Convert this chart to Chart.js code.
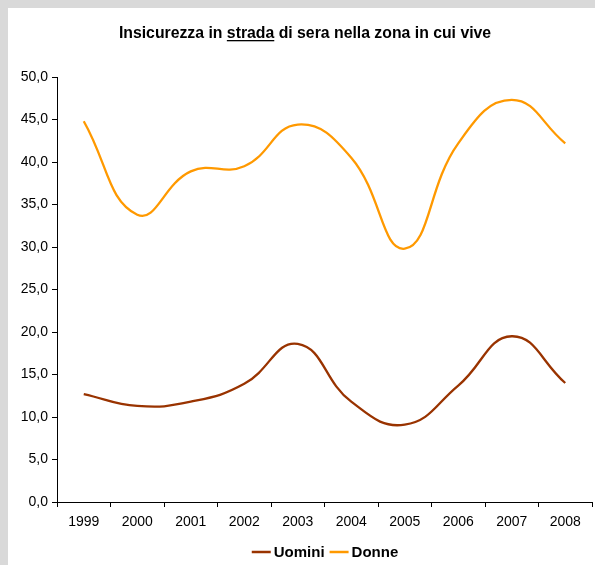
<!DOCTYPE html>
<html>
<head>
<meta charset="utf-8">
<script src="https://cdn.jsdelivr.net/npm/chart.js@4/dist/chart.umd.min.js"></script>
<style>
  html, body { margin: 0; padding: 0; }
  body { width: 595px; height: 565px; background: #d9d9d9; position: relative; overflow: hidden; }
  #panel { position: absolute; left: 8px; top: 8px; right: 0; bottom: 0; background: #ffffff; }
  #wrap { position: absolute; left: 0; top: 0; width: 595px; height: 565px; }
</style>
</head>
<body>
<div id="panel"></div>
<div id="wrap"><canvas id="chart" width="595" height="565"></canvas></div>
<script>
// Years on the horizontal axis
const years = ['1999', '2000', '2001', '2002', '2003', '2004', '2005', '2006', '2007', '2008'];
// Share feeling unsafe in the street at night (%)
const uomini = [12.7, 11.3, 11.8, 13.9, 18.6, 11.8, 9.1, 13.7, 19.5, 14.0];
const donne = [44.8, 33.8, 38.9, 39.5, 44.4, 40.5, 29.8, 42.2, 47.3, 42.2];
// Value-axis tick labels
const yTicks = ['0,0', '5,0', '10,0', '15,0', '20,0', '25,0', '30,0', '35,0', '40,0', '45,0', '50,0'];

const titleParts = [
  { text: 'Insicurezza in ', underline: false },
  { text: 'strada', underline: true },
  { text: ' di sera nella zona in cui vive', underline: false }
];

const FONT = "'Liberation Sans', Arial, sans-serif";

// Title with the underlined word
const titlePlugin = {
  id: 'underlinedTitle',
  afterDraw(chart) {
    const ctx = chart.ctx;
    ctx.save();
    ctx.font = 'bold 15.8px ' + FONT;
    ctx.fillStyle = '#000';
    ctx.textBaseline = 'alphabetic';
    const total = titleParts.reduce((s, p) => s + ctx.measureText(p.text).width, 0);
    let x = 305 - total / 2;
    const y = 38;
    titleParts.forEach(p => {
      const w = ctx.measureText(p.text).width;
      ctx.fillText(p.text, x, y);
      if (p.underline) {
        ctx.fillRect(x, y + 2, w, 1.3);
      }
      x += w;
    });
    ctx.restore();
  }
};

// Legend drawn below the axis from the dataset styles
const legendPlugin = {
  id: 'lineLegend',
  afterDraw(chart) {
    const ctx = chart.ctx;
    ctx.save();
    ctx.font = 'bold 15px ' + FONT;
    ctx.textBaseline = 'middle';
    const sw = 19, gap = 3, between = 5;
    const items = chart.data.datasets.map(d => ({ label: d.label, color: d.borderColor, w: ctx.measureText(d.label).width }));
    const total = items.reduce((s, it) => s + sw + gap + it.w, 0) + between * (items.length - 1);
    let x = 325 - total / 2;
    const y = 552;
    items.forEach(it => {
      ctx.strokeStyle = it.color;
      ctx.lineWidth = 2.5;
      ctx.beginPath();
      ctx.moveTo(x, y);
      ctx.lineTo(x + sw, y);
      ctx.stroke();
      x += sw + gap;
      ctx.fillStyle = '#000';
      ctx.fillText(it.label, x, y + 1);
      x += it.w + between;
    });
    ctx.restore();
  }
};

new Chart(document.getElementById('chart'), {
  type: 'line',
  data: {
    labels: years,
    datasets: [
      { label: 'Uomini', data: uomini, borderColor: '#993300', borderWidth: 2.3, pointRadius: 0, tension: 0.45, fill: false },
      { label: 'Donne', data: donne, borderColor: '#ff9900', borderWidth: 2.3, pointRadius: 0, tension: 0.45, fill: false }
    ]
  },
  options: {
    responsive: false,
    animation: false,
    layout: { padding: { left: 0, right: 3, top: 77, bottom: 0 } },
    plugins: {
      legend: { display: false },
      title: { display: false },
      tooltip: { enabled: false }
    },
    scales: {
      x: {
        type: 'category',
        offset: true,
        grid: { display: true, offset: true, drawOnChartArea: false, tickLength: 5, tickColor: '#000', tickWidth: 1 },
        border: { display: true, color: '#000', width: 1 },
        ticks: { color: '#000', font: { family: FONT, size: 14 }, padding: 7, maxRotation: 0, autoSkip: false },
        afterFit(scale) { scale.height = 63; }
      },
      y: {
        min: 0,
        max: 50,
        grid: { display: true, drawOnChartArea: false, tickLength: 5, tickColor: '#000', tickWidth: 1 },
        border: { display: true, color: '#000', width: 1 },
        ticks: {
          stepSize: 5,
          color: '#000',
          font: { family: FONT, size: 14 },
          padding: 4,
          callback: (v, i) => yTicks[i]
        },
        afterFit(scale) { scale.width = 57; }
      }
    }
  },
  plugins: [titlePlugin, legendPlugin]
});
</script>
</body>
</html>
